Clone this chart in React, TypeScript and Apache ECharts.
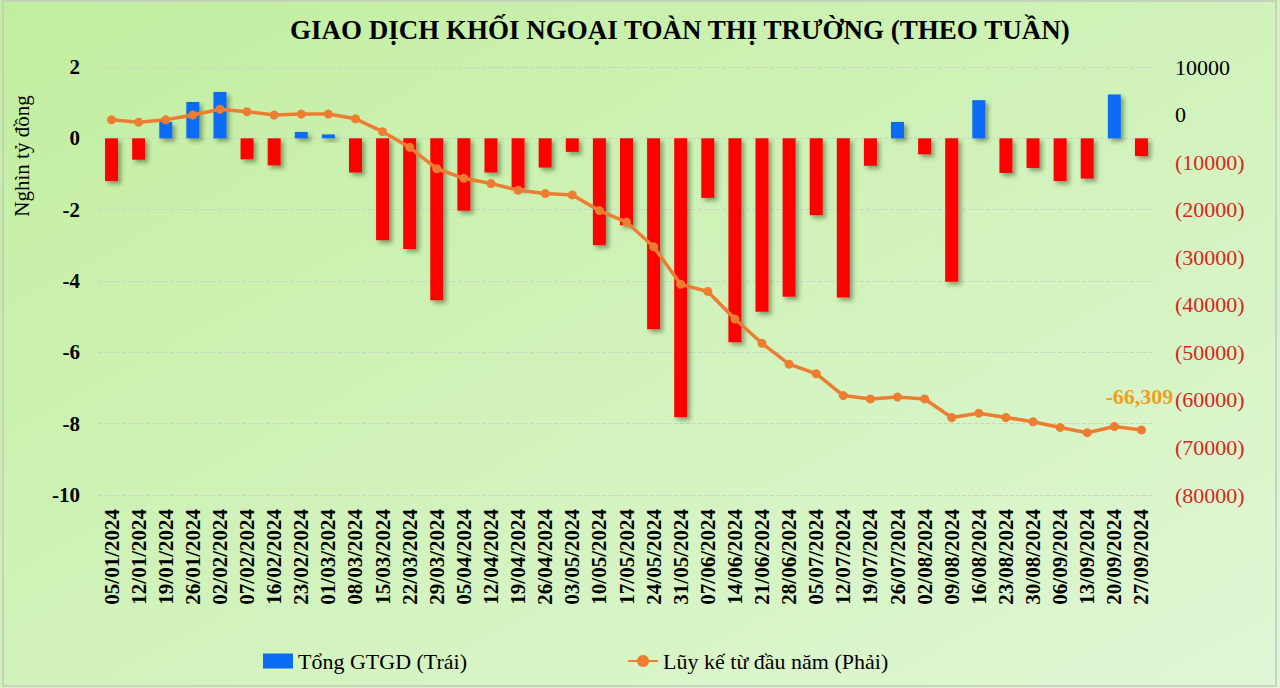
import React, { useEffect, useRef } from "react";
import * as echarts from "echarts";

const categories: string[] = [
  "05/01/2024", "12/01/2024", "19/01/2024", "26/01/2024", "02/02/2024", "07/02/2024",
  "16/02/2024", "23/02/2024", "01/03/2024", "08/03/2024", "15/03/2024", "22/03/2024",
  "29/03/2024", "05/04/2024", "12/04/2024", "19/04/2024", "26/04/2024", "03/05/2024",
  "10/05/2024", "17/05/2024", "24/05/2024", "31/05/2024", "07/06/2024", "14/06/2024",
  "21/06/2024", "28/06/2024", "05/07/2024", "12/07/2024", "19/07/2024", "26/07/2024",
  "02/08/2024", "09/08/2024", "16/08/2024", "23/08/2024", "30/08/2024", "06/09/2024",
  "13/09/2024", "20/09/2024", "27/09/2024",
];

// Weekly net value (thousand billion VND, left axis)
const weeklyValues: number[] = [
  -1.2, -0.6, 0.46, 1.02, 1.3, -0.59, -0.76, 0.18, 0.11, -0.96,
  -2.86, -3.1, -4.54, -2.03, -0.96, -1.4, -0.82, -0.38, -3.0, -2.44,
  -5.35, -7.82, -1.67, -5.72, -4.86, -4.44, -2.16, -4.46, -0.77, 0.46,
  -0.45, -4.02, 1.07, -0.97, -0.83, -1.2, -1.13, 1.23, -0.5,
];

// Year-to-date cumulative (billion VND, right axis)
const cumulativeValues: number[] = [
  -1100, -1600, -1100, -100, 1100, 600, -100, 100, 100, -900,
  -3600, -6900, -11400, -13400, -14500, -15900, -16600, -16900, -20200, -22600,
  -27800, -35700, -37200, -43000, -48100, -52500, -54500, -59100, -59800, -59400,
  -59800, -63700, -62800, -63700, -64600, -65800, -66900, -65600, -66309,
];

const leftTicks = { min: -10, max: 2, interval: 2 };
const rightTicks = { min: -80000, max: 10000, interval: 10000 };

const TITLE = "GIAO DỊCH KHỐI NGOẠI TOÀN THỊ TRƯỜNG (THEO TUẦN)";
const BAR_NAME = "Tổng GTGD (Trái)";
const LINE_NAME = "Lũy kế từ đầu năm (Phải)";
const Y_NAME = "Nghìn tỷ đồng";

const FONT = "'Liberation Serif', 'Times New Roman', serif";
const BLUE = "#0a6cf5";
const RED = "#ff0000";
const ORANGE = "#ED7D31";

export default function App() {
  const ref = useRef<HTMLDivElement>(null);

  useEffect(() => {
    if (!ref.current) return;
    const chart = echarts.init(ref.current, undefined, { renderer: "svg" });
    const last = cumulativeValues.length - 1;

    const option: any = {
      animation: false,
      backgroundColor: {
        type: "linear",
        x: 0, y: 0, x2: 1, y2: 1,
        colorStops: [
          { offset: 0, color: "#c2ee9f" },
          { offset: 1, color: "#e0f7d6" },
        ],
      },
      textStyle: { fontFamily: FONT },
      title: {
        text: TITLE,
        left: 285,
        top: 11,
        textStyle: { fontFamily: FONT, fontSize: 27, fontWeight: "bold", color: "#000" },
      },
      graphic: [
        {
          type: "rect",
          shape: { x: 3, y: 1, width: 1273, height: 685 },
          style: { fill: "none", stroke: "#c4c8c0", lineWidth: 1.5 },
          silent: true,
        },
        {
          type: "text",
          x: 22,
          y: 156,
          rotation: Math.PI / 2,
          style: {
            text: Y_NAME,
            fontFamily: FONT,
            fontSize: 21,
            fill: "#000",
            align: "center",
            verticalAlign: "middle",
          },
        },
      ],
      legend: {
        left: 258,
        top: 645,
        itemGap: 160,
        itemWidth: 30,
        itemHeight: 15,
        textStyle: { fontFamily: FONT, fontSize: 22, color: "#000" },
        data: [
          { name: BAR_NAME, icon: "rect", itemStyle: { color: BLUE } },
          { name: LINE_NAME },
        ],
      },
      grid: { left: 98, right: 125, top: 67, bottom: 193, containLabel: false },
      xAxis: {
        type: "category",
        data: categories,
        axisLine: { show: false },
        axisTick: { show: false },
        axisLabel: {
          rotate: 90,
          interval: 0,
          margin: 14,
          fontFamily: FONT,
          fontSize: 21,
          fontWeight: "bold",
          color: "#000",
        },
      },
      yAxis: [
        {
          type: "value",
          min: leftTicks.min,
          max: leftTicks.max,
          interval: leftTicks.interval,
          axisLine: { show: false },
          axisTick: { show: false },
          splitLine: { show: true, lineStyle: { color: "#c9d6c0", type: "dashed", width: 1 } },
          axisLabel: {
            margin: 18,
            fontFamily: FONT,
            fontSize: 21,
            fontWeight: "bold",
            color: "#000",
          },
        },
        {
          type: "value",
          min: rightTicks.min,
          max: rightTicks.max,
          interval: rightTicks.interval,
          axisLine: { show: false },
          axisTick: { show: false },
          splitLine: { show: false },
          axisLabel: {
            margin: 20,
            formatter: (v: number) => (v < 0 ? `{n|(${-v})}` : `{p|${v}}`),
            rich: {
              n: { fontFamily: FONT, fontSize: 22, color: "#d8261c" },
              p: { fontFamily: FONT, fontSize: 22, color: "#000" },
            },
          },
        },
      ],
      series: [
        {
          name: BAR_NAME,
          type: "bar",
          yAxisIndex: 0,
          barWidth: 13,
          itemStyle: {
            color: BLUE,
            shadowColor: "rgba(40,60,20,0.45)",
            shadowBlur: 4,
            shadowOffsetX: 3,
            shadowOffsetY: 3,
          },
          data: weeklyValues.map((v) => ({
            value: v,
            itemStyle: { color: v >= 0 ? BLUE : RED },
          })),
          z: 2,
        },
        {
          name: LINE_NAME,
          type: "line",
          yAxisIndex: 1,
          symbol: "circle",
          symbolSize: 9,
          itemStyle: { color: ORANGE },
          lineStyle: { color: ORANGE, width: 3.5 },
          z: 3,
          data: cumulativeValues.map((v, i) =>
            i === last
              ? {
                  value: v,
                  label: {
                    show: true,
                    position: "top",
                    distance: 4,
                    offset: [-2, -14],
                    formatter: (p: any) =>
                      "-" + Math.abs(p.value).toLocaleString("en-US"),
                    fontFamily: FONT,
                    fontSize: 22,
                    fontWeight: "bold",
                    color: "#f0a020",
                  },
                }
              : v
          ),
        },
      ],
    };

    chart.setOption(option);
    return () => chart.dispose();
  }, []);

  return (
    <div
      ref={ref}
      style={{ position: "fixed", left: 0, top: 0, width: 1280, height: 688 }}
    />
  );
}
